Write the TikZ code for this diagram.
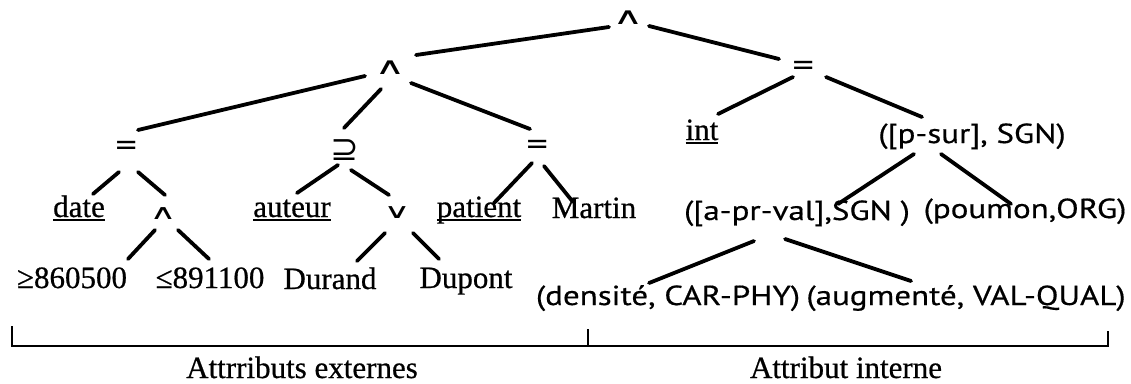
\documentclass[tikz,border=0pt]{standalone}
\usepackage{fontspec}
\setmainfont[FakeBold=0.6]{Liberation Serif}
\newfontfamily\optfont[FakeStretch=1.2,FakeBold=0.5]{PT Sans}
\newfontfamily\symfont{DejaVu Sans}
% underlined label with a heavier rule
\newcommand\undl[1]{\setbox0\hbox{#1}\rlap{\rule[-4pt]{\wd0}{2.2pt}}\box0}
% squat wedge-like operator glyph
\newcommand\squat[1]{\scalebox{1.5}[0.84]{#1}}
\begin{document}
\begin{tikzpicture}[x=1pt,y=-1pt,
  txt/.style={inner sep=0pt, anchor=base, font=\fontsize{31}{36}\selectfont},
  opt/.style={inner sep=0pt, anchor=base, font=\optfont\fontsize{27.5}{33}\selectfont},
  sym/.style={inner sep=0pt, anchor=center, font=\symfont\fontsize{28}{32}\selectfont},
  smallsym/.style={sym, font=\symfont\fontsize{24.5}{28}\selectfont},
  supsym/.style={sym, font=\symfont\fontsize{34}{38}\selectfont},
  eqsym/.style={sym, font=\symfont\fontsize{29}{33}\selectfont},
  edge/.style={line width=3.8pt, line cap=round},
  bracket/.style={line width=2.4pt},
]
\useasboundingbox (0,0) rectangle (1131,383);

% operators
\node[sym] (top) at (628,18) {\squat{∧}};
\node[sym] (and2) at (390,68) {\squat{∧}};
\node[eqsym] (eqR) at (804,68) {=};
\node[eqsym] (eqA) at (127,148) {=};
\node[supsym] (sup) at (345,150) {⊇};
\node[eqsym] (eqB) at (538,147) {=};
\node[smallsym] (and3) at (163,214) {\squat{∧}};
\node[smallsym] (or) at (397,213) {\squat{∨}};

% leaves and attribute values
\node[txt] (date) at (79,217) {\undl{date}};
\node[txt] (auteur) at (292,217) {\undl{auteur}};
\node[txt] (patient) at (479,217) {\undl{patient}};
\node[txt] (martin) at (594,218) {Martin};
\node[txt] (int) at (702,140) {\undl{int}};
\node[opt] (psur) at (972,143) {([p-sur], SGN)};
\node[opt] (aprval) at (797,220) {([a-pr-val],SGN )};
\node[opt] (poumon) at (1025,218) {(poumon,ORG)};
\node[txt] (ge) at (72,288) {≥860500};
\node[txt] (le) at (210,288) {≤891100};
\node[txt] (durand) at (330,289) {Durand};
\node[txt] (dupont) at (466,288) {Dupont};
\node[opt] (densite) at (668,305) {(densité, CAR-PHY)};
\node[opt] (augmente) at (966,305) {(augmenté, VAL-QUAL)};

% tree branches
\draw[edge] ([shift={(-19,9)}]top.center) -- ([shift={(26,-13)}]and2.center);
\draw[edge] ([shift={(21,8)}]top.center) -- ([shift={(-25,-9)}]eqR.center);
\draw[edge] ([shift={(-25,8)}]and2.center) -- ([shift={(11,-18)}]eqA.center);
\draw[edge] ([shift={(-9,21)}]and2.center) -- ([shift={(-1,-22)}]sup.center);
\draw[edge] ([shift={(21,15)}]and2.center) -- ([shift={(-8,-18)}]eqB.center);
\draw[edge] ([shift={(-11,9)}]eqR.center) -- ([shift={(16,-26)}]int.base);
\draw[edge] ([shift={(22,9)}]eqR.center) -- ([shift={(-50,-26)}]psur.base);
\draw[edge] ([shift={(-8,24)}]eqA.center) -- ([shift={(14,-23)}]date.base);
\draw[edge] ([shift={(11,24)}]eqA.center) -- ([shift={(2,-19)}]and3.center);
\draw[edge] ([shift={(-7,15)}]sup.center) -- ([shift={(5,-24)}]auteur.base);
\draw[edge] ([shift={(6,20)}]sup.center) -- ([shift={(-8,-18)}]or.center);
\draw[edge] ([shift={(-6,16)}]eqB.center) -- ([shift={(15,-14)}]patient.base);
\draw[edge] ([shift={(6,19)}]eqB.center) -- ([shift={(-21,-16)}]martin.base);
\draw[edge] ([shift={(-8,16)}]and3.center) -- ([shift={(56,-29)}]ge.base);
\draw[edge] ([shift={(15,16)}]and3.center) -- ([shift={(-1,-29)}]le.base);
\draw[edge] ([shift={(-12,20)}]or.center) -- ([shift={(27,-28)}]durand.base);
\draw[edge] ([shift={(16,20)}]or.center) -- ([shift={(-27,-29)}]dupont.base);
\draw[edge] ([shift={(-58,11)}]psur.base) -- ([shift={(41,-16)}]aprval.base);
\draw[edge] ([shift={(-31,11)}]psur.base) -- ([shift={(-14,-14)}]poumon.base);
\draw[edge] ([shift={(-43,21)}]aprval.base) -- ([shift={(-19,-22)}]densite.base);
\draw[edge] ([shift={(-12,19)}]aprval.base) -- ([shift={(-55,-24)}]augmente.base);

% grouping bracket
\coordinate (bL) at (12,326);
\coordinate (bLb) at (12,346);
\coordinate (bM) at (588,329);
\coordinate (bMb) at (588,346);
\coordinate (bR) at (1108,331);
\coordinate (bRb) at (1108,346);
\draw[bracket] (bL) -- (bLb) -- (bRb) -- (bR);
\draw[bracket] (bM) -- (bMb);

\node[txt] (lblA) at (302,378) {Attrributs externes};
\node[txt] (lblB) at (846,378) {Attribut interne};
\end{tikzpicture}
\end{document}
